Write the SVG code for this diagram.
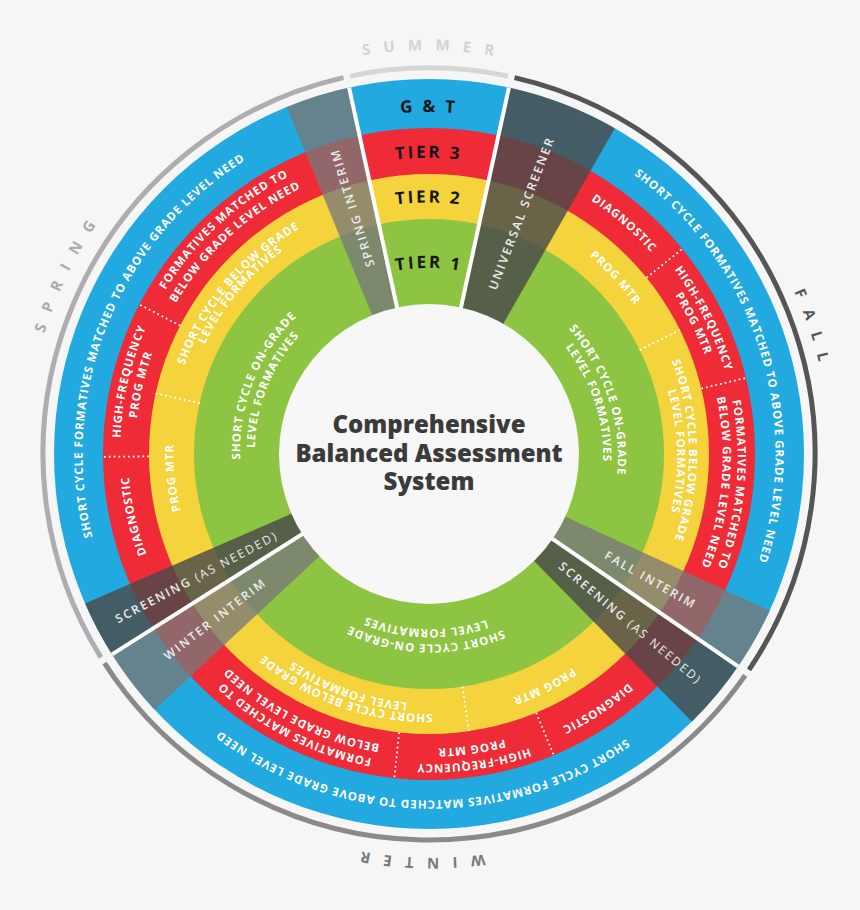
<svg xmlns="http://www.w3.org/2000/svg" width="860" height="910" viewBox="0 0 860 910">
<style>
.ring{font-family:"Open Sans","Liberation Sans",sans-serif;font-size:11.5px;font-weight:700;fill:#fff;letter-spacing:0.9px;text-anchor:middle}
.tier{font-family:"Open Sans","Liberation Sans",sans-serif;font-size:17px;font-weight:700;fill:#161616;letter-spacing:2.6px;text-anchor:middle}
.band{font-family:"Open Sans","Liberation Sans",sans-serif;font-size:12px;font-weight:600;fill:#ececec;letter-spacing:2px;text-anchor:middle}
.band .thin{font-weight:400}
.season{font-family:"Open Sans","Liberation Sans",sans-serif;font-size:15px;font-weight:700;letter-spacing:13px;text-anchor:middle}
.title{font-family:"Open Sans","Liberation Sans",sans-serif;font-size:24px;font-weight:800;fill:#3b3b3b;text-anchor:middle}
.dot{stroke:#fff;stroke-width:1.8;stroke-dasharray:1.8 3;fill:none}
.gap{stroke:#fff;stroke-width:4;fill:none}
.arc{fill:none;stroke-width:5}
.light{fill:#787878;fill-opacity:0.78}
.dark{fill:#4b4b4b;fill-opacity:0.82}
</style>
<defs>
<path id="r347" d="M128.9,627.25 A346.5,346.5 0 1 1 729.1,280.75 A346.5,346.5 0 1 1 128.9,627.25"/>
<path id="r306" d="M163.6,607.25 A306.5,306.5 0 1 1 694.4,300.75 A306.5,306.5 0 1 1 163.6,607.25"/>
<path id="r299" d="M170.1,603.5 A299,299 0 1 1 687.9,304.5 A299,299 0 1 1 170.1,603.5"/>
<path id="r293" d="M175.7,600.25 A292.5,292.5 0 1 1 682.3,307.75 A292.5,292.5 0 1 1 175.7,600.25"/>
<path id="r259" d="M203.8,584 A260,260 0 1 1 654.2,324 A260,260 0 1 1 203.8,584"/>
<path id="r254" d="M209.5,580.75 A253.5,253.5 0 1 1 648.5,327.25 A253.5,253.5 0 1 1 209.5,580.75"/>
<path id="r246" d="M216,577 A246,246 0 1 1 642,331 A246,246 0 1 1 216,577"/>
<path id="r187" d="M267.1,547.5 A187,187 0 1 1 590.9,360.5 A187,187 0 1 1 267.1,547.5"/>
<path id="r173" d="M279.2,540.5 A173,173 0 1 1 578.8,367.5 A173,173 0 1 1 279.2,540.5"/>
<path id="r342" d="M132.8,625 A342,342 0 1 1 725.2,283 A342,342 0 1 1 132.8,625"/>
<path id="r294" d="M174.4,601 A294,294 0 1 1 683.6,307 A294,294 0 1 1 174.4,601"/>
<path id="r250" d="M212.5,579 A250,250 0 1 1 645.5,329 A250,250 0 1 1 212.5,579"/>
<path id="r186" d="M267.9,547 A186,186 0 1 1 590.1,361 A186,186 0 1 1 267.9,547"/>
<path id="r399" d="M83.5,653.5 A399,399 0 1 1 774.5,254.5 A399,399 0 1 1 83.5,653.5"/>
</defs>
<rect width="860" height="910" fill="#f6f6f6"/>
<g id="season-arcs">
<path class="arc" stroke="#d6d6d6" d="M350.1,76.1 A386,386 0 0 1 507.9,76.1"/>
<path class="arc" stroke="#555555" d="M514.5,77.6 A386,386 0 0 1 749,669.9"/>
<path class="arc" stroke="#8a8a8a" d="M745.2,675.4 A386,386 0 0 1 104.5,663.1"/>
<path class="arc" stroke="#aeaeb0" d="M100.9,657.4 A386,386 0 0 1 343.5,77.6"/>
</g>
<g id="rings">
<circle cx="429" cy="454" r="375" fill="#22a9e0"/>
<circle cx="429" cy="454" r="326" fill="#ee2b36"/>
<circle cx="429" cy="454" r="280" fill="#f4d33c"/>
<circle cx="429" cy="454" r="235" fill="#8dc441"/>
</g>
<g id="dividers">
<line class="dot" x1="646.6" y1="277.8" x2="682.3" y2="248.8"/>
<line class="dot" x1="701.3" y1="388.6" x2="746" y2="377.9"/>
<line class="dot" x1="536.2" y1="712.7" x2="553.8" y2="755.2"/>
<line class="dot" x1="399.2" y1="732.4" x2="394.3" y2="778.2"/>
<line class="dot" x1="149" y1="456.4" x2="103" y2="456.8"/>
<line class="dot" x1="180.2" y1="325.6" x2="139.3" y2="304.5"/>
<line class="dot" x1="639.7" y1="349.9" x2="680" y2="329.9"/>
<line class="dot" x1="462.5" y1="686.6" x2="468.9" y2="731.1"/>
<line class="dot" x1="199.6" y1="403.1" x2="155.6" y2="393.4"/>
</g>
<g id="bands">
<path id="band-universal-screener" class="dark" d="M429,454 L508.9,87.6 A375,375 0 0 1 614.8,128.3 Z"/>
<path id="band-fall-interim" class="light" d="M429,454 L769.7,610.7 A375,375 0 0 1 738,666.4 Z"/>
<path id="band-screening-right" class="dark" d="M429,454 L738,666.4 A375,375 0 0 1 691.8,721.5 Z"/>
<path id="band-winter-interim" class="light" d="M429,454 L154.7,709.8 A375,375 0 0 1 112,654.4 Z"/>
<path id="band-screening-left" class="dark" d="M429,454 L112,654.4 A375,375 0 0 1 85.1,603.5 Z"/>
<path id="band-spring-interim" class="light" d="M429,454 L286.7,107 A375,375 0 0 1 349.1,87.6 Z"/>
</g>
<g id="gaps">
<line class="gap" x1="429" y1="454" x2="508.9" y2="87.6"/>
<line class="gap" x1="429" y1="454" x2="738" y2="666.4"/>
<line class="gap" x1="429" y1="454" x2="112" y2="654.4"/>
<line class="gap" x1="429" y1="454" x2="349.1" y2="87.6"/>
</g>
<circle id="hub" cx="429" cy="454" r="150" fill="#f7f7f7"/>
<g id="summer">
<text class="season" fill="#d3d3d3"><textPath href="#r399" startOffset="33.59%">SUMMER</textPath></text>
<text class="tier"><textPath href="#r342" startOffset="33.33%">G &amp; T</textPath></text>
<text class="tier"><textPath href="#r294" startOffset="33.33%">TIER 3</textPath></text>
<text class="tier"><textPath href="#r250" startOffset="33.33%">TIER 2</textPath></text>
<text class="tier"><textPath href="#r186" startOffset="33.33%">TIER 1</textPath></text>
</g>
<g id="fall">
<text class="season" fill="#555555"><textPath href="#r399" startOffset="53.40%">FALL</textPath></text>
<text class="ring"><textPath href="#r347" startOffset="53.39%">SHORT CYCLE FORMATIVES MATCHED TO ABOVE GRADE LEVEL NEED</textPath></text>
<text class="ring"><textPath href="#r299" startOffset="44.54%">DIAGNOSTIC</textPath></text>
<text class="ring"><textPath href="#r306" startOffset="51.04%">HIGH-FREQUENCY</textPath></text>
<text class="ring"><textPath href="#r293" startOffset="51.04%">PROG MTR</textPath></text>
<text class="ring"><textPath href="#r306" startOffset="59.89%">FORMATIVES MATCHED TO</textPath></text>
<text class="ring"><textPath href="#r293" startOffset="59.89%">BELOW GRADE LEVEL NEED</textPath></text>
<text class="ring"><textPath href="#r254" startOffset="46.31%">PROG MTR</textPath></text>
<text class="ring"><textPath href="#r259" startOffset="58.11%">SHORT CYCLE BELOW GRADE</textPath></text>
<text class="ring"><textPath href="#r246" startOffset="58.11%">LEVEL FORMATIVES</textPath></text>
<text class="ring"><textPath href="#r187" startOffset="53.39%">SHORT CYCLE ON-GRADE</textPath></text>
<text class="ring"><textPath href="#r173" startOffset="53.39%">LEVEL FORMATIVES</textPath></text>
<text class="band" transform="translate(521.5,213.1) rotate(-69)" dy="4.3">UNIVERSAL SCREENER</text>
<text class="band" transform="translate(650.7,579.9) rotate(29.6)" dy="4.3">FALL INTERIM</text>
</g>
<g id="winter">
<text class="season" fill="#7a7a7a"><textPath href="#r399" startOffset="83.87%">WINTER</textPath></text>
<text class="ring"><textPath href="#r347" startOffset="83.68%">SHORT CYCLE FORMATIVES MATCHED TO ABOVE GRADE LEVEL NEED</textPath></text>
<text class="ring"><textPath href="#r299" startOffset="74.03%">DIAGNOSTIC</textPath></text>
<text class="ring"><textPath href="#r306" startOffset="81.06%">HIGH-FREQUENCY</textPath></text>
<text class="ring"><textPath href="#r293" startOffset="81.06%">PROG MTR</textPath></text>
<text class="ring"><textPath href="#r306" startOffset="90.71%">FORMATIVES MATCHED TO</textPath></text>
<text class="ring"><textPath href="#r293" startOffset="90.71%">BELOW GRADE LEVEL NEED</textPath></text>
<text class="ring"><textPath href="#r254" startOffset="76.01%">PROG MTR</textPath></text>
<text class="ring"><textPath href="#r259" startOffset="88.72%">SHORT CYCLE BELOW GRADE</textPath></text>
<text class="ring"><textPath href="#r246" startOffset="88.72%">LEVEL FORMATIVES</textPath></text>
<text class="ring"><textPath href="#r187" startOffset="83.68%">SHORT CYCLE ON-GRADE</textPath></text>
<text class="ring"><textPath href="#r173" startOffset="83.68%">LEVEL FORMATIVES</textPath></text>
<text class="band" transform="translate(630.5,623.1) rotate(40)" dy="4.3">SCREENING<tspan class="thin"> (AS NEEDED)</tspan></text>
<text class="band" transform="translate(215.2,618.9) rotate(-37.65)" dy="4.3">WINTER INTERIM</text>
</g>
<g id="spring">
<text class="season" fill="#ababab"><textPath href="#r399" startOffset="15.76%">SPRING</textPath></text>
<text class="ring"><textPath href="#r347" startOffset="14.47%">SHORT CYCLE FORMATIVES MATCHED TO ABOVE GRADE LEVEL NEED</textPath></text>
<text class="ring"><textPath href="#r299" startOffset="5%">DIAGNOSTIC</textPath></text>
<text class="ring"><textPath href="#r306" startOffset="12.06%">HIGH-FREQUENCY</textPath></text>
<text class="ring"><textPath href="#r293" startOffset="12.06%">PROG MTR</textPath></text>
<text class="ring"><textPath href="#r306" startOffset="21.53%">FORMATIVES MATCHED TO</textPath></text>
<text class="ring"><textPath href="#r293" startOffset="21.53%">BELOW GRADE LEVEL NEED</textPath></text>
<text class="ring"><textPath href="#r254" startOffset="6.81%">PROG MTR</textPath></text>
<text class="ring"><textPath href="#r259" startOffset="19.47%">SHORT CYCLE BELOW GRADE</textPath></text>
<text class="ring"><textPath href="#r246" startOffset="19.47%">LEVEL FORMATIVES</textPath></text>
<text class="ring"><textPath href="#r187" startOffset="14.47%">SHORT CYCLE ON-GRADE</textPath></text>
<text class="ring"><textPath href="#r173" startOffset="14.47%">LEVEL FORMATIVES</textPath></text>
<text class="band" transform="translate(196.6,577.1) rotate(-27.9)" dy="4.3">SCREENING<tspan class="thin"> (AS NEEDED)</tspan></text>
<text class="band" transform="translate(352.3,207.7) rotate(-107.3)" dy="4.3">SPRING INTERIM</text>
</g>
<g id="center-title">
<text class="title" x="429" y="433">Comprehensive</text>
<text class="title" x="429" y="462">Balanced Assessment</text>
<text class="title" x="429" y="490">System</text>
</g>
</svg>
